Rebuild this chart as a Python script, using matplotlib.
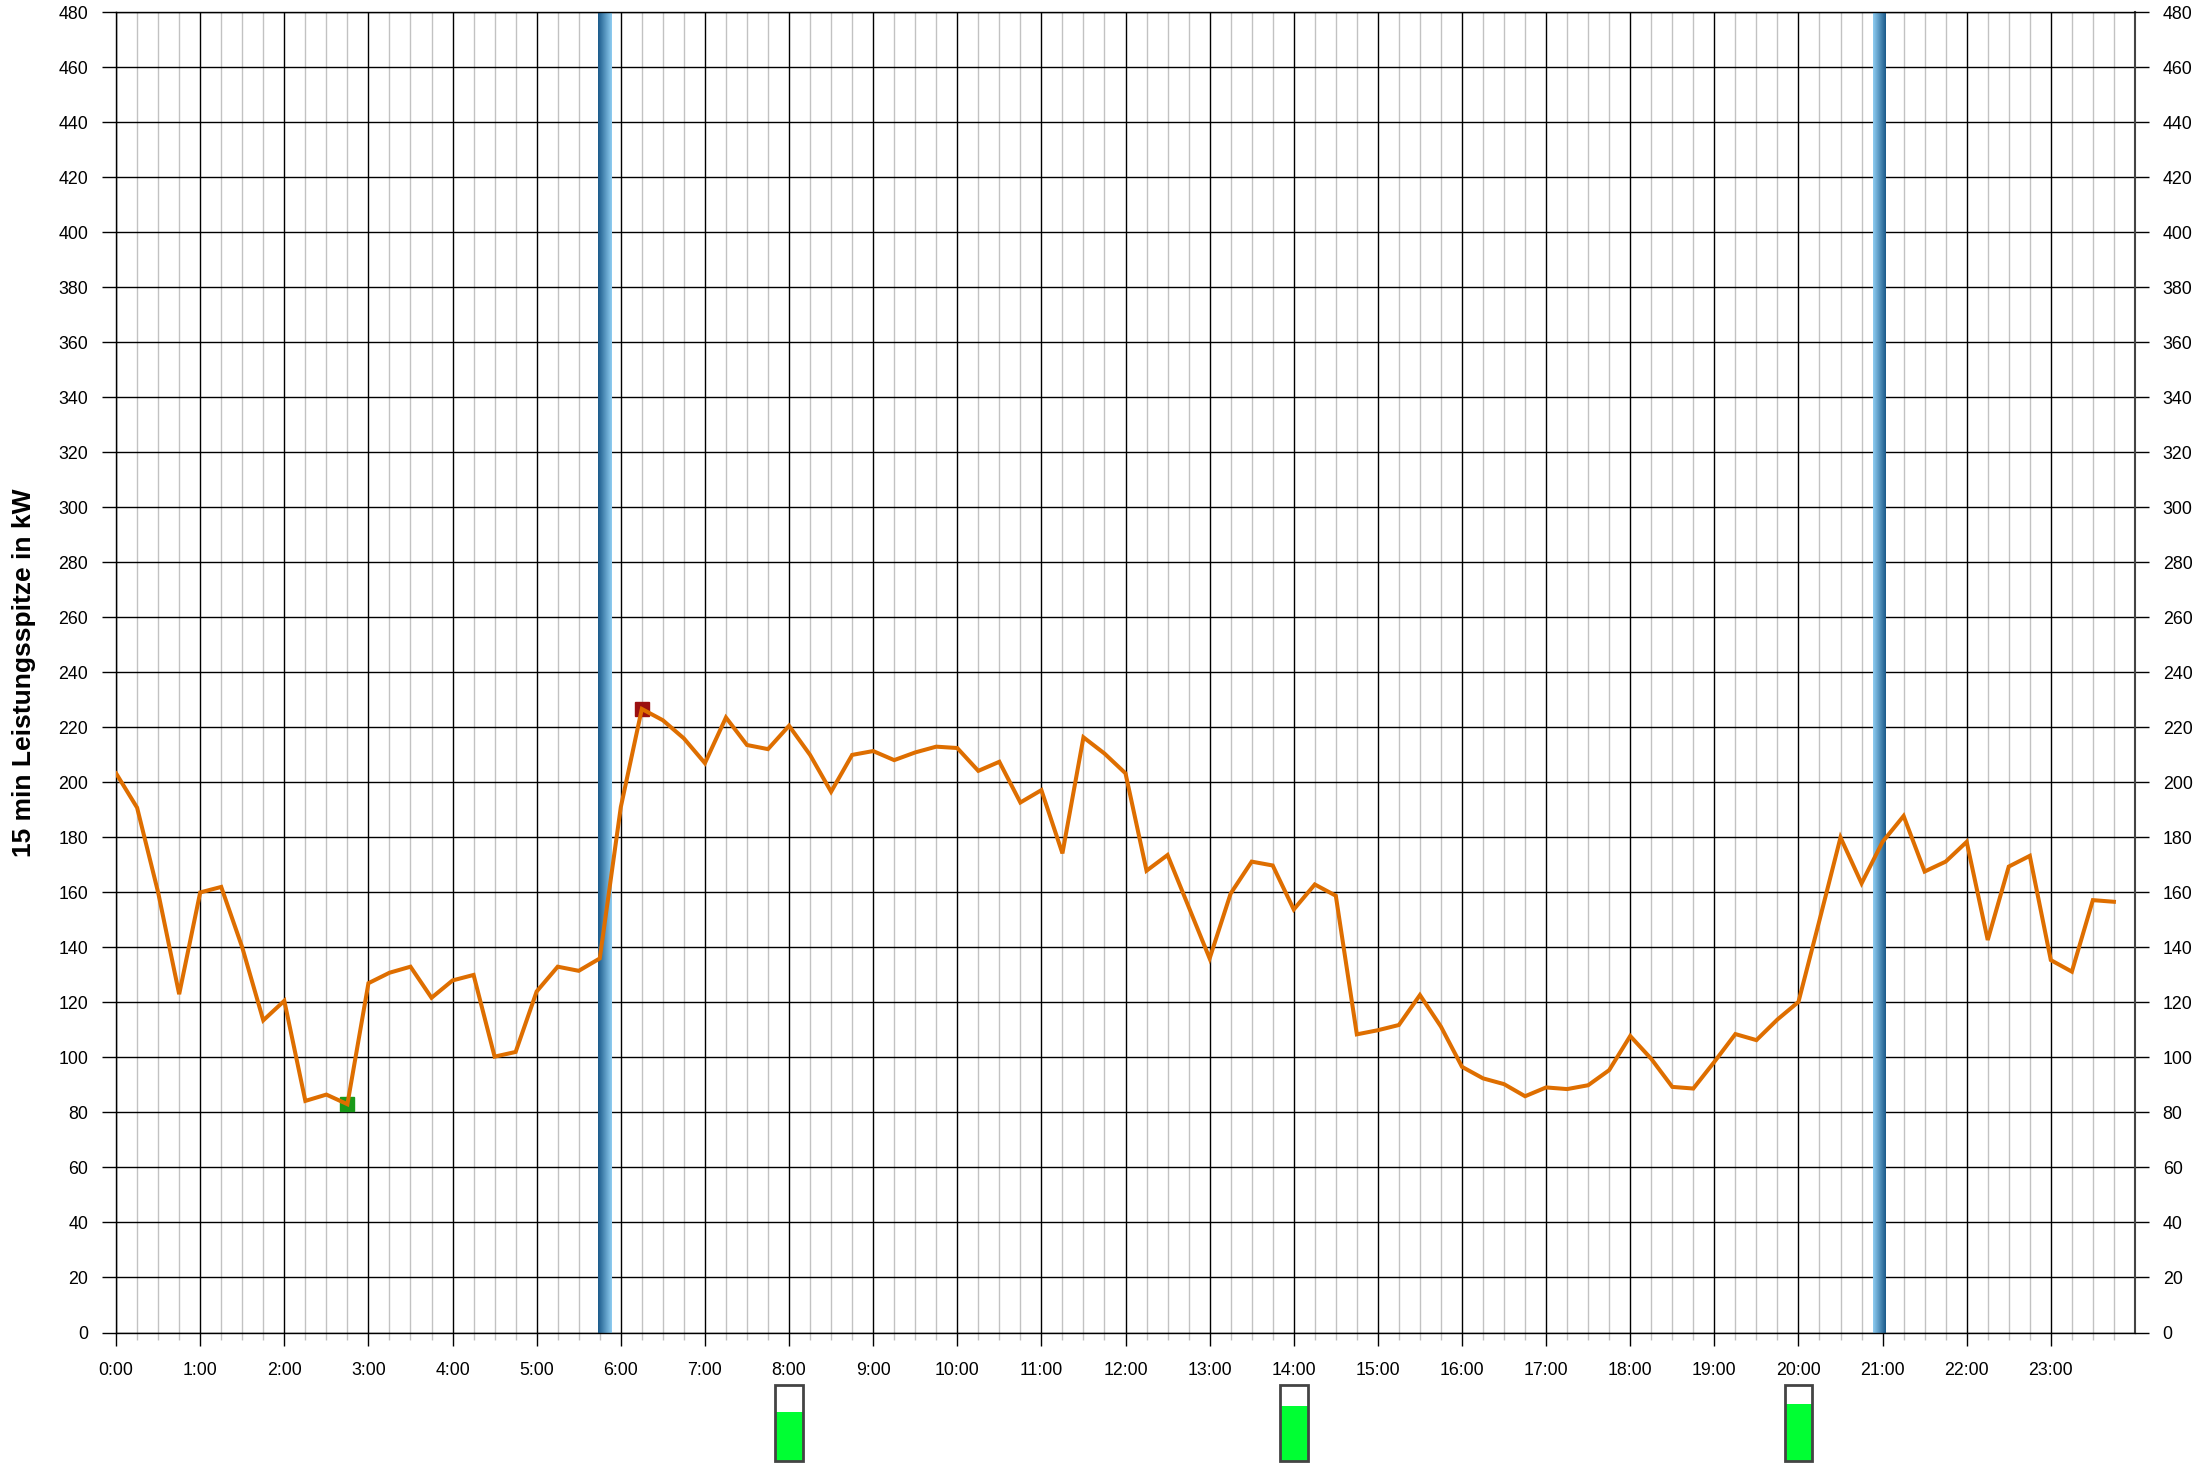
import numpy as np
import matplotlib
matplotlib.use("Agg")
import matplotlib.pyplot as plt
from matplotlib.transforms import blended_transform_factory
from matplotlib.patches import Rectangle

plt.rcParams['font.family'] = ['Liberation Sans', 'DejaVu Sans']

# ---- data ----
step_hours = 0.25  # 15-min intervals
power_kw = [
    203.3, 190.8, 160.0, 123.0, 160.0, 162.0, 140.0, 113.5,
    120.6, 84.2, 86.5, 83.0, 127.0, 130.8, 133.0, 121.7,
    128.0, 130.0, 100.3, 102.0, 124.0, 133.0, 131.5, 136.0,
    191.0, 226.7, 222.6, 216.0, 207.0, 223.6, 213.6, 212.1,
    220.6, 210.0, 196.6, 210.0, 211.4, 208.1, 210.9, 213.0,
    212.5, 204.2, 207.5, 192.7, 197.2, 174.2, 216.4, 210.5,
    203.3, 167.9, 173.6, 154.8, 136.0, 159.6, 171.2, 169.8,
    153.8, 162.9, 158.8, 108.4, 109.9, 111.8, 122.7, 111.2,
    96.6, 92.4, 90.3, 85.9, 89.1, 88.5, 89.9, 95.4,
    107.8, 99.5, 89.3, 88.7, 98.4, 108.5, 106.3, 113.8,
    120.2, 149.9, 180.0, 163.3, 178.4, 187.8, 167.6, 171.2,
    178.4, 142.7, 169.4, 173.3, 135.4, 131.2, 157.2, 156.6,
]
hour_ticks = list(range(24))
hour_labels = [f"{h}:00" for h in hour_ticks]
y_ticks = list(range(0, 481, 20))

# sunrise / sunset style markers (start, end in hours, gradient direction)
band_starts = [5.73, 20.89]
band_ends = [5.89, 21.04]
band_dark_left = [True, False]

# battery indicators
battery_hours = [8, 14, 20]
battery_levels = [0.65, 0.72, 0.75]

# ---- figure ----
fig = plt.figure(figsize=(22.11, 14.63), dpi=100)
ax = fig.add_axes([0.0525, 0.0892, 0.9131, 0.9024])

x = np.arange(len(power_kw)) * step_hours
y = np.array(power_kw)

ax.set_xlim(0, 24)
ax.set_ylim(0, 480)

# grids
ax.set_xticks(hour_ticks)
ax.set_xticklabels(hour_labels)
ax.set_xticks(np.arange(0, 24, step_hours), minor=True)
ax.set_yticks(y_ticks)
ax.set_yticklabels([str(v) for v in y_ticks])
ax.set_axisbelow(True)
ax.grid(True, which='major', axis='both', color='black', linewidth=1.0)
ax.grid(True, which='minor', axis='x', color='#c2c2c2', linewidth=1.0)

ax.tick_params(axis='x', which='major', length=9, width=1.0, color='black',
               labelsize=12.8, pad=12)
ax.tick_params(axis='x', which='minor', length=5, width=1.0, color='#c2c2c2')
ax.tick_params(axis='y', which='major', length=10, width=1.0, color='black',
               labelsize=12.8, pad=10, left=True, right=True,
               labelleft=True, labelright=True)

for s in ['left', 'top', 'bottom']:
    ax.spines[s].set_color('black')
    ax.spines[s].set_linewidth(1.0)
ax.spines['right'].set_color('#444444')
ax.spines['right'].set_linewidth(1.5)

# gradient bands
light = np.array([0x8f, 0xcd, 0xf2]) / 255.0
dark = np.array([0x1b, 0x5a, 0x8a]) / 255.0
t = np.linspace(0, 1, 64)
for x0, x1, dl in zip(band_starts, band_ends, band_dark_left):
    if dl:
        cols = dark[None, :] * (1 - t[:, None]) + light[None, :] * t[:, None]
    else:
        cols = light[None, :] * (1 - t[:, None]) + dark[None, :] * t[:, None]
    ax.imshow(cols[None, :, :], extent=[x0, x1, 0, 480], aspect='auto',
              zorder=1.5, interpolation='bilinear')
ax.set_xlim(0, 24)
ax.set_ylim(0, 480)

# min/max markers
imin = int(np.argmin(y))
imax = int(np.argmax(y))
ax.plot(x[imin], y[imin], marker='s', markersize=10, color='#1a9a1a',
        linestyle='none', zorder=2.5)
ax.plot(x[imax], y[imax], marker='s', markersize=10, color='#9b1010',
        linestyle='none', zorder=2.5)

# main line
ax.plot(x, y, color='#de6e00', linewidth=2.9, zorder=3,
        solid_joinstyle='miter')

# y label
ax.set_ylabel('15 min Leistungsspitze in kW', fontsize=19, fontweight='bold',
              labelpad=16)

# batteries
trans = blended_transform_factory(ax.transData, fig.transFigure)
bw = 0.33
bottom = 0.0012
height = 0.052
for bh, lvl in zip(battery_hours, battery_levels):
    ax.add_patch(Rectangle((bh - bw / 2, bottom), bw, height * lvl,
                           transform=trans, facecolor='#00ff33',
                           edgecolor='none', clip_on=False, zorder=5))
    ax.add_patch(Rectangle((bh - bw / 2, bottom), bw, height,
                           transform=trans, facecolor='none',
                           edgecolor='#444444', linewidth=2.0,
                           clip_on=False, zorder=6))

fig.savefig('out.png', dpi=100)
